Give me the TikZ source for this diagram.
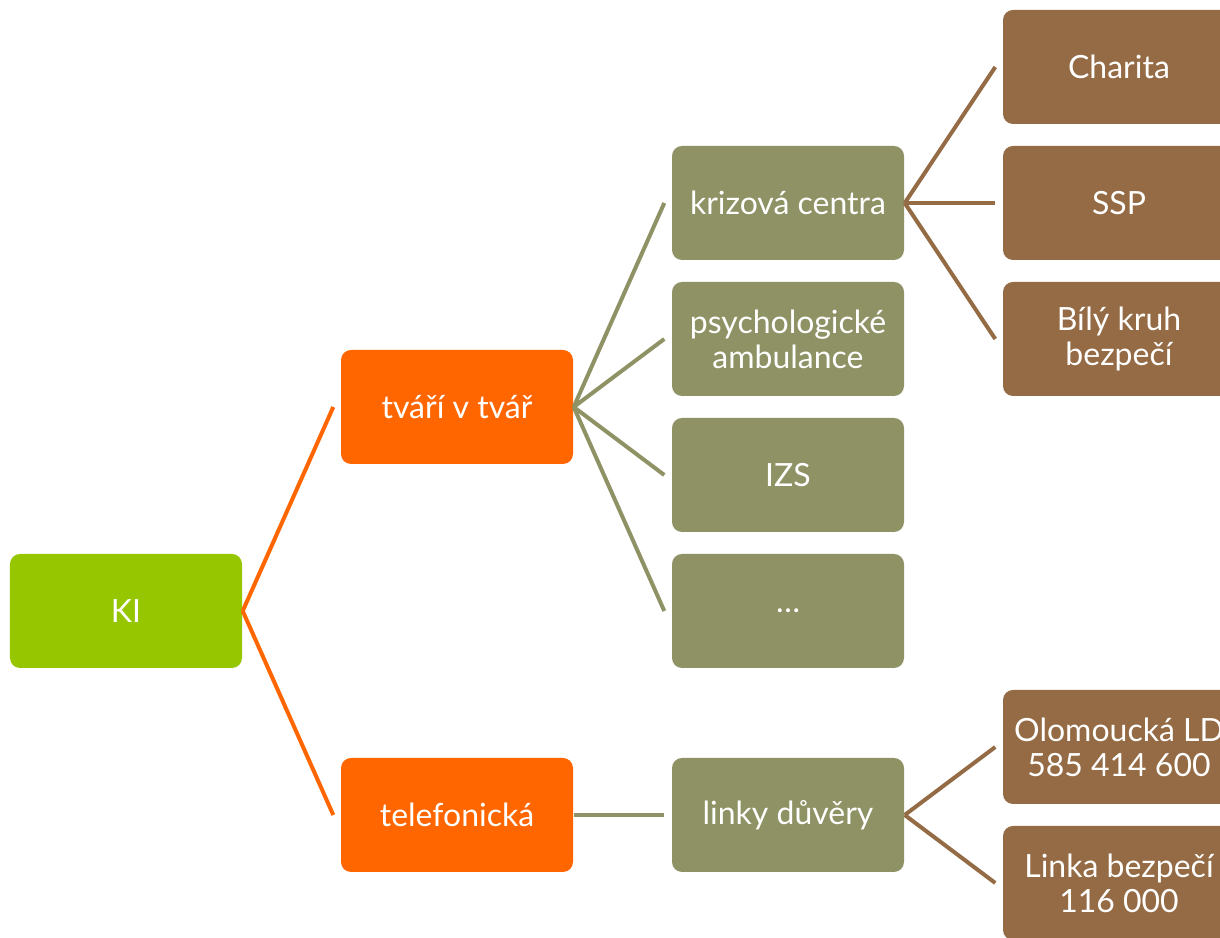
\documentclass[tikz,border=0pt]{standalone}
\usepackage{fontspec}
\setmainfont{Lato}
\usepackage{tikz}
\usetikzlibrary{positioning}
\usepackage{xcolor}

\definecolor{kigreen}{RGB}{150,198,0}
\definecolor{kiorange}{RGB}{255,102,0}
\definecolor{kiolive}{RGB}{143,146,100}
\definecolor{kibrown}{RGB}{148,107,68}

\begin{document}
\begin{tikzpicture}[
  box/.style={rounded corners=0.1cm, minimum width=2.32cm, minimum height=1.14cm,
    inner sep=0pt, text=white, align=center, font=\fontsize{9.1}{10}\selectfont},
  link/.style={line width=0.04cm}
]
\clip (0,0) rectangle (12.2,9.38);
\useasboundingbox (0,0) rectangle (12.2,9.38);

% root
\node[box, fill=kigreen] (ki) at (1.26,3.27) {KI};

% first level
\node[box, fill=kiorange] (tvar) at (4.57,5.31) {tváří v tvář};
\node[box, fill=kiorange] (tel) at (4.57,1.23) {telefonická};

% second level
\node[box, fill=kiolive] (krize) at (7.88,7.35) {krizová centra};
\node[box, fill=kiolive] (psych) at (7.88,5.99) {psychologické\\ambulance};
\node[box, fill=kiolive] (izs) at (7.88,4.63) {IZS};
\node[box, fill=kiolive] (dots) at (7.88,3.27) {\dots};
\node[box, fill=kiolive] (linky) at (7.88,1.23) {linky důvěry};

% third level
\node[box, fill=kibrown] (charita) at (11.19,8.71) {Charita};
\node[box, fill=kibrown] (ssp) at (11.19,7.35) {SSP};
\node[box, fill=kibrown] (bily) at (11.19,5.99) {Bílý kruh\\bezpečí};
\node[box, fill=kibrown] (olo) at (11.19,1.91) {Olomoucká LD\\585 414 600};
\node[box, fill=kibrown] (linka) at (11.19,0.55) {Linka bezpečí\\116 000};

% connectors
\draw[link, kiorange] (ki.east)--([xshift=-0.07cm]tvar.west);
\draw[link, kiorange] (ki.east)--([xshift=-0.07cm]tel.west);

\draw[link, kiolive] (tvar.east)--([xshift=-0.07cm]krize.west);
\draw[link, kiolive] (tvar.east)--([xshift=-0.07cm]psych.west);
\draw[link, kiolive] (tvar.east)--([xshift=-0.07cm]izs.west);
\draw[link, kiolive] (tvar.east)--([xshift=-0.07cm]dots.west);
\draw[link, kiolive] (tel.east)--([xshift=-0.07cm]linky.west);

\draw[link, kibrown] (krize.east)--([xshift=-0.07cm]charita.west);
\draw[link, kibrown] (krize.east)--([xshift=-0.07cm]ssp.west);
\draw[link, kibrown] (krize.east)--([xshift=-0.07cm]bily.west);
\draw[link, kibrown] (linky.east)--([xshift=-0.07cm]olo.west);
\draw[link, kibrown] (linky.east)--([xshift=-0.07cm]linka.west);

\end{tikzpicture}
\end{document}
